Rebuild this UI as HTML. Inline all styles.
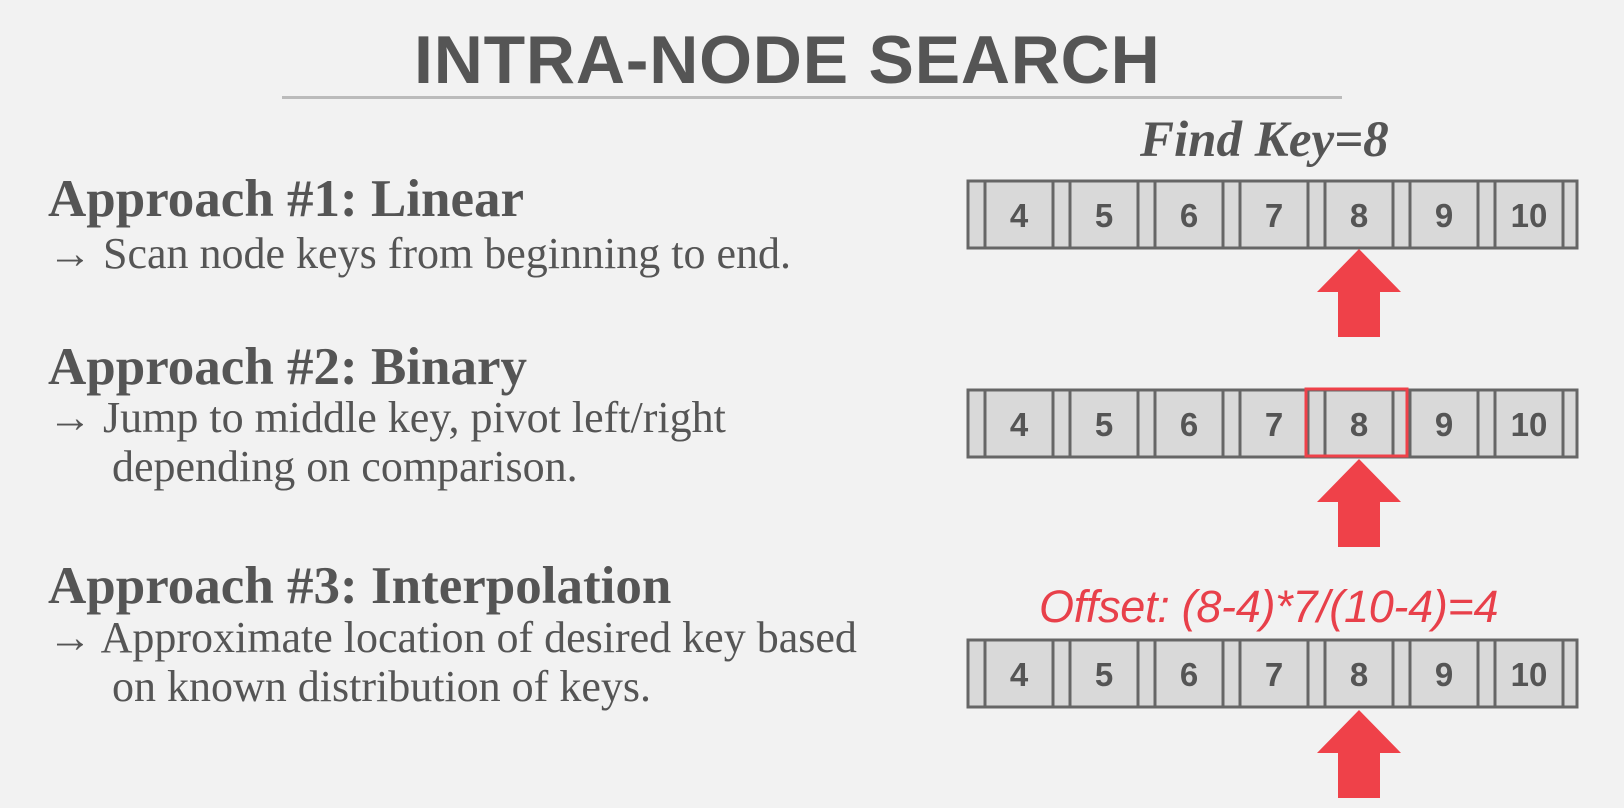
<!DOCTYPE html>
<html><head><meta charset="utf-8"><style>
body{margin:0;width:1624px;height:808px;background:#f2f2f2;overflow:hidden;position:relative;font-family:"Liberation Serif",serif;color:#555}
.t{position:absolute;white-space:nowrap;line-height:1}
.h{font-weight:bold;font-size:53px;left:48px}
.s{font-size:44px;left:48px}
.s2{font-size:44px;left:112px}
</style></head><body>
<div class="t" style="left:414px;top:26px;font-family:'Liberation Sans',sans-serif;font-weight:bold;font-size:68px;letter-spacing:0.8px;color:#555">INTRA-NODE SEARCH</div>
<div style="position:absolute;left:282px;top:96px;width:1060px;height:3px;background:#bbb"></div>

<div class="t h" style="top:173px">Approach #1: Linear</div>
<div class="t s" style="top:232px">→ Scan node keys from beginning to end.</div>
<div class="t h" style="top:341px">Approach #2: Binary</div>
<div class="t s" style="top:396px">→ Jump to middle key, pivot left/right</div>
<div class="t s2" style="top:445px">depending on comparison.</div>
<div class="t h" style="top:560px">Approach #3: Interpolation</div>
<div class="t s" style="top:616px">→ Approximate location of desired key based</div>
<div class="t s2" style="top:665px">on known distribution of keys.</div>

<div class="t" style="left:1140px;top:115px;font-style:italic;font-weight:bold;font-size:51px;color:#555">Find Key=8</div>
<div class="t" style="left:1039px;top:584px;font-family:'Liberation Sans',sans-serif;font-style:italic;font-size:45px;color:#e8404a;letter-spacing:-0.3px">Offset: (8-4)*7/(10-4)=4</div>

<svg width="1624" height="808" style="position:absolute;left:0;top:0" xmlns="http://www.w3.org/2000/svg">
<defs>
<g id="arr">
<rect x="0" y="0" width="609" height="67" fill="#d9d9d9" stroke="#666" stroke-width="3"/>
<g stroke="#666" stroke-width="3">
<line x1="17" y1="0" x2="17" y2="67"/><line x1="85" y1="0" x2="85" y2="67"/>
<line x1="102" y1="0" x2="102" y2="67"/><line x1="170" y1="0" x2="170" y2="67"/>
<line x1="187" y1="0" x2="187" y2="67"/><line x1="255" y1="0" x2="255" y2="67"/>
<line x1="272" y1="0" x2="272" y2="67"/><line x1="340" y1="0" x2="340" y2="67"/>
<line x1="357" y1="0" x2="357" y2="67"/><line x1="425" y1="0" x2="425" y2="67"/>
<line x1="442" y1="0" x2="442" y2="67"/><line x1="510" y1="0" x2="510" y2="67"/>
<line x1="527" y1="0" x2="527" y2="67"/><line x1="595" y1="0" x2="595" y2="67"/>
</g>
<g font-family="Liberation Sans,sans-serif" font-weight="bold" font-size="33" fill="#555" text-anchor="middle">
<text x="51" y="46">4</text><text x="136" y="46">5</text><text x="221" y="46">6</text><text x="306" y="46">7</text><text x="391" y="46">8</text><text x="476" y="46">9</text><text x="561" y="46">10</text>
</g>
</g>
<polygon id="up" points="0,0 42,43 21,43 21,88 -21,88 -21,43 -42,43" fill="#ef4149"/>
</defs>
<use href="#arr" x="968" y="181"/>
<use href="#up" x="1359" y="249"/>
<use href="#arr" x="968" y="390"/>
<rect x="1306" y="389" width="101" height="67" fill="none" stroke="#ef4149" stroke-width="3"/>
<use href="#up" x="1359" y="459"/>
<use href="#arr" x="968" y="640"/>
<use href="#up" x="1359" y="710"/>
</svg>
</body></html>
